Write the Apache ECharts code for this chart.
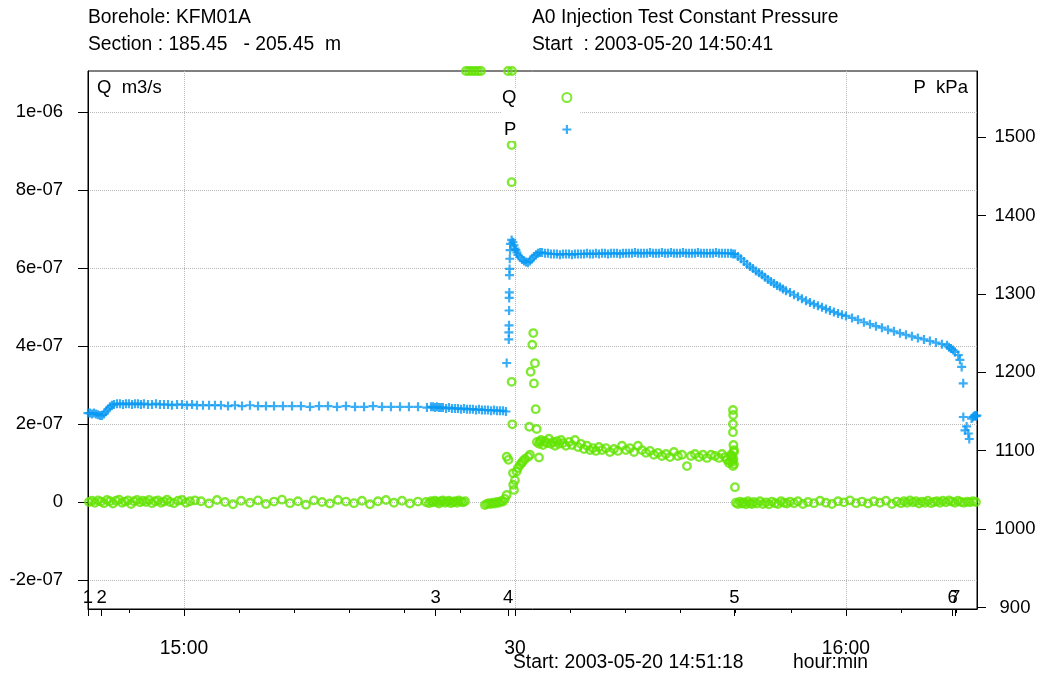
<!DOCTYPE html>
<html>
<head>
<meta charset="utf-8">
<script src="https://cdn.jsdelivr.net/npm/echarts@6/dist/echarts.min.js"></script>
<style>
html, body { margin: 0; padding: 0; background: #fff; }
#chart { width: 1047px; height: 678px; }
</style>
</head>
<body>
<div id="chart"></div>
<script>
// time is in minutes after 15:00, Q in 1e-7 m3/s, P in kPa
var majorTicks = [0, 30, 60];
var majorLabels = ['15:00', '30', '16:00'];
var minorTicks = [-5, 5, 10, 15, 20, 25, 35, 40, 45, 50, 55, 65, 70];
var eventTimes = [-8.70, -7.46, 22.81, 29.39, 49.88, 69.67, 69.91];
var eventLabels = ['1', '2', '3', '4', '5', '6', '7'];
var qTicks = [-2, 0, 2, 4, 6, 8, 10];
var qTickLabels = ['-2e-07', '0', '2e-07', '4e-07', '6e-07', '8e-07', '1e-06'];
var pTicks = [900, 1000, 1100, 1200, 1300, 1400, 1500];

var pBefore = [
  [-8.70,1148],[-8.52,1148],[-8.34,1147],[-8.16,1148],[-7.98,1147],[-7.79,1146],[-7.61,1145],[-7.43,1145],
  [-7.25,1147],[-7.07,1150],[-6.89,1153],[-6.71,1156],[-6.53,1158],[-6.34,1159],
  [-6.07,1160],[-5.80,1160],[-5.53,1159],[-5.26,1160],[-4.99,1160],[-4.71,1159],[-4.44,1160],[-4.17,1160],
  [-3.90,1159],[-3.63,1160],[-3.26,1159],[-2.90,1159],[-2.54,1160],[-2.18,1159],[-1.81,1159],[-1.45,1159],
  [-1.09,1158],[-0.63,1159],[-0.18,1159],[0.27,1158],[0.73,1159],[1.18,1158],[1.72,1158],[2.27,1158],
  [2.81,1158],[3.35,1158],[3.99,1157],[4.62,1158],[5.26,1157],[5.98,1158],[6.71,1157],[7.43,1157],
  [8.16,1157],[8.97,1157],[9.79,1157],[10.60,1157],[11.42,1156],[12.24,1157],[13.05,1157],[13.87,1156],
  [14.68,1157],[15.50,1156],[16.32,1156],[17.13,1157],[17.95,1156],[18.76,1156],[19.58,1156],[20.39,1156],
  [21.21,1156],[22.02,1155],
  [22.39,1156],[22.57,1156],[22.75,1155],[22.93,1156],[23.11,1155],[23.29,1155],[23.47,1155],[23.75,1154],
  [24.02,1155],[24.29,1154],[24.56,1154],[24.83,1154],[25.11,1153],[25.38,1154],[25.65,1153],[25.92,1153],
  [26.19,1153],[26.47,1152],[26.74,1153],[27.01,1152],[27.28,1152],[27.55,1152],[27.83,1151],[28.10,1152],
  [28.37,1151],[28.64,1151],[28.91,1151],[29.18,1150]
];
var pRise = [
  [29.25,1212],[29.44,1242],[29.45,1251],[29.46,1260],[29.47,1279],[29.48,1295],[29.49,1302],[29.50,1324],
  [29.51,1332],[29.53,1345],[29.56,1356],[29.60,1364],[29.70,1369],
  [29.82,1366],[29.91,1362],[30.00,1358],[30.09,1356],[30.18,1353],[30.27,1350],[30.45,1347],[30.64,1344],
  [30.82,1342],[31.00,1341],[31.18,1340],[31.36,1342],[31.54,1345],[31.72,1348],[31.90,1350],[32.08,1352],
  [32.27,1353],[32.45,1353],[32.72,1352],[32.99,1352],[33.26,1351]
];
var pPlateau = [
  [33.54,1351],[33.81,1351],[34.08,1350],[34.35,1351],[34.62,1351],[34.90,1351],[35.17,1350],[35.44,1351],
  [35.71,1351],[35.98,1351],[36.26,1351],[36.53,1352],[36.80,1351],[37.07,1351],[37.34,1352],[37.61,1351],
  [37.89,1352],[38.16,1352],[38.43,1351],[38.70,1352],[38.97,1352],[39.25,1352],[39.52,1351],[39.79,1352],
  [40.06,1352],[40.33,1352],[40.61,1352],[40.88,1353],[41.15,1352],[41.42,1352],[41.69,1352],[41.97,1352],
  [42.24,1353],[42.51,1352],[42.78,1352],[43.05,1352],[43.32,1353],[43.60,1352],[43.87,1352],[44.14,1353],
  [44.41,1352],[44.68,1352],[44.96,1352],[45.23,1353],[45.50,1352],[45.77,1352],[46.04,1352],[46.32,1352],
  [46.59,1353],[46.86,1352],[47.13,1352],[47.40,1352],[47.68,1352],[47.95,1352],[48.22,1353],[48.49,1352],
  [48.76,1352],[49.04,1352],[49.31,1352],[49.58,1352],[49.76,1351]
];
var pRecovery = [
  [49.94,1351],[50.21,1348],[50.48,1345],[50.76,1341.5],[51.03,1338],[51.30,1335],[51.57,1332.5],[51.84,1329.5],
  [52.12,1327],[52.39,1324.5],[52.66,1321.5],[52.93,1318.5],[53.20,1316],[53.48,1313.5],[53.75,1311],[54.02,1309],
  [54.29,1306.5],[54.56,1304],[54.93,1302],[55.29,1299],[55.65,1296.5],[56.01,1294],[56.38,1291.5],[56.74,1289],
  [57.10,1287],[57.46,1285],[57.83,1283],[58.19,1281],[58.55,1279],[58.91,1277],[59.28,1275],[59.64,1273.5],
  [60.00,1272],[60.55,1269.5],[61.09,1267],[61.63,1264],[62.18,1261.5],[62.72,1259],[63.26,1257],[63.81,1254.5],
  [64.35,1252.5],[64.90,1250],[65.44,1248],[65.98,1246],[66.52,1244],[67.07,1242],[67.61,1240],[68.16,1238],
  [68.70,1236],[69.16,1234.5],[69.34,1232],[69.52,1230.5],[69.70,1228.5],[69.88,1226],[70.18,1222],[70.33,1216],
  [70.49,1207],[70.63,1186],[70.64,1143],[70.79,1126],[70.94,1131],[71.09,1122],[71.18,1115],[71.39,1141],
  [71.50,1143],[71.62,1144],[71.72,1145],[71.80,1144],[71.87,1145]
];

var qBefore = [
  [-8.61,0.00],[-8.34,0.03],[-8.07,-0.02],[-7.79,0.04],[-7.52,0.01],[-7.25,-0.03],[-6.98,0.05],[-6.71,0.02],
  [-6.44,-0.04],[-6.16,0.03],[-5.89,0.06],[-5.62,-0.02],[-5.35,0.01],[-5.08,0.04],[-4.80,-0.05],[-4.53,0.02],
  [-4.26,0.05],[-3.99,-0.01],[-3.72,0.03],[-3.44,0.00],[-3.17,0.05],[-2.90,-0.03],[-2.63,0.02],[-2.36,0.04],
  [-2.09,-0.02],[-1.81,0.01],[-1.54,0.06],[-1.27,0.00],[-0.91,-0.03],[-0.54,0.03],[-0.18,0.05],[0.18,-0.02],
  [0.54,0.02],[1.00,0.04],
  [1.54,0.02],[2.27,-0.04],[2.99,0.05],[3.72,0.00],[4.44,-0.06],[5.17,0.03],[5.98,-0.02],[6.71,0.04],
  [7.43,-0.05],[8.16,0.01],[8.88,0.06],[9.61,-0.03],[10.33,0.02],[11.06,-0.07],[11.78,0.04],[12.51,0.00],
  [13.23,-0.04],[13.96,0.05],[14.68,0.01],[15.41,-0.03],[16.13,0.03],[16.86,-0.06],[17.58,0.02],[18.31,0.05],
  [19.03,-0.02],[19.76,0.03],[20.48,-0.04],[21.21,0.01],[21.93,0.00],
  [22.21,-0.03],[22.39,0.02],[22.57,-0.01],[22.75,0.03],[22.93,0.00],[23.11,-0.04],[23.29,0.02],[23.47,0.04],
  [23.66,-0.02],[23.84,0.01],[24.02,0.03],[24.20,-0.03],[24.38,0.00],[24.56,0.02],[24.74,-0.02],[24.92,0.04],
  [25.11,0.01],[25.29,-0.01],[25.47,0.02]
];
// readings above the top of the plot, drawn on its upper edge
var qOffScale = [
  [25.56,11.05],[25.83,11.05],[26.10,11.05],[26.38,11.05],[26.65,11.05],[26.92,11.05],[29.37,11.05],[29.73,11.05]
];
var qInjection = [
  [27.28,-0.08],[27.46,-0.05],[27.64,-0.03],[27.83,-0.05],[28.01,-0.02],[28.19,-0.04],[28.37,0.00],[28.55,-0.02],
  [28.73,0.02],[28.91,0.01],[29.09,0.08],[29.25,0.18],
  [29.25,1.16],[29.41,1.08],[29.70,3.08],[29.76,1.99],[29.82,0.74],[29.84,0.44],[29.91,0.31],[30.00,0.56],
  [30.15,0.78],[30.27,0.87],[30.45,0.95],[30.61,1.00],[30.73,1.05],[30.91,1.10],[31.21,1.16],[31.36,1.21],
  [32.18,1.14],[31.66,4.33],[31.57,4.03],[31.81,3.56],[31.42,3.34],[31.72,3.04],[31.88,2.38],[31.30,1.93],
  [31.97,1.87],[32.27,1.55],[29.70,9.15],[29.70,8.20],
  [31.99,1.54],[32.18,1.49],[32.36,1.59],[32.54,1.46],[32.72,1.56],[32.90,1.51],[33.08,1.62],[33.26,1.49],
  [33.45,1.54],[33.63,1.44],[33.81,1.56],[33.99,1.49],[34.17,1.59],[34.35,1.51],[34.62,1.44],[34.90,1.54],
  [35.17,1.46],[35.44,1.59],[35.71,1.41],[35.98,1.49],[36.26,1.36],[36.53,1.44],[36.80,1.33],[37.07,1.38],
  [37.34,1.31],[37.61,1.41],[37.89,1.33],[38.25,1.38],[38.61,1.28],[38.97,1.36],[39.34,1.31],[39.70,1.44],
  [40.06,1.33],[40.42,1.38],[40.79,1.28],[41.15,1.44],[41.51,1.33],[41.87,1.26],[42.24,1.31],[42.60,1.21],
  [42.96,1.26],[43.32,1.18],[43.69,1.23],[44.05,1.15],[44.41,1.28],[44.77,1.18],[45.14,1.21],[45.59,0.92],
  [45.95,1.18],[46.32,1.23],[46.68,1.15],[47.04,1.21],[47.40,1.13],[47.77,1.21],[48.13,1.18],[48.49,1.13],
  [48.76,1.23],[49.04,1.15],[49.22,1.08],[49.40,1.00],[49.49,1.05],[49.58,1.21],[49.62,1.18],[49.67,1.13],
  [49.70,1.03],[49.76,0.92],[49.80,1.10],[49.85,1.28],[49.85,0.97],
  [49.76,2.36],[49.78,2.23],[49.76,2.00],[49.76,1.79],[49.80,1.46],[49.85,1.33],[49.94,0.38]
];
var qAfter = [
  [50.03,-0.02],[50.21,-0.05],[50.39,0.01],[50.57,-0.04],[50.76,-0.01],[50.94,-0.06],[51.12,0.02],[51.30,-0.03],
  [51.48,-0.05],[51.66,0.00],[51.93,-0.04],[52.21,0.02],[52.48,-0.05],[52.75,-0.01],[53.02,-0.06],[53.29,0.01],
  [53.57,-0.03],[53.84,-0.05],[54.11,0.02],[54.38,-0.02],[54.65,-0.04],[54.93,0.01],[55.29,-0.03],[55.65,0.02],
  [56.10,-0.05],[56.56,0.00],[57.10,-0.03],[57.65,0.03],[58.19,-0.02],[58.73,-0.05],[59.28,0.02],[59.82,-0.01],
  [60.36,0.04],[60.91,-0.03],[61.45,0.01],[62.00,-0.04],[62.54,0.02],[63.08,-0.02],[63.63,0.03],[64.17,-0.05],
  [64.62,0.01],[64.99,-0.03],[65.26,0.02],[65.53,-0.02],[65.80,0.04],[66.07,-0.01],[66.35,0.02],[66.62,-0.04],
  [66.89,0.01],[67.16,-0.02],[67.43,0.03],[67.71,-0.03],[67.98,0.00],[68.25,0.02],[68.52,-0.02],[68.79,0.03],
  [69.07,-0.01],[69.34,0.04],[69.61,0.01],[69.88,-0.02],[70.15,0.03],[70.42,0.00],[70.70,-0.02],[70.97,0.01],
  [71.24,-0.01],[71.51,0.02],[71.78,0.00]
];

var FONT = '"Liberation Sans", Arial, sans-serif';
var FS = 18.5;
var FS_TEXT = 19.3;
var GREEN = '#62e400';
var BLUE = '#0898f2';
var PLUS = 'path://M3.8,0H6.2V3.8H10V6.2H6.2V10H3.8V6.2H0V3.8H3.8Z';
var X_MIN = -8.70, X_MAX = 71.88;
var Q_MIN = -2.744, Q_MAX = 11.05;
var P_MIN = 898, P_MAX = 1584.6;

var chart = echarts.init(document.getElementById('chart'));

function title(text, left, top) {
  return {
    text: text, left: left, top: top, padding: 0,
    textStyle: { fontFamily: FONT, fontSize: FS_TEXT, fontWeight: 'normal', color: '#000' }
  };
}
var blackLine = { color: '#000', width: 1 };
var gridLine = { type: 'dotted', color: '#b8b8b8', width: 1 };

// numbered test events sit on the time axis; 6 and 7 nearly coincide,
// so 7 gets its own axis to stop ECharts hiding one of them
function eventAxis(values) {
  return {
    type: 'value', min: X_MIN, max: X_MAX, position: 'bottom',
    axisLine: { show: false, onZero: false },
    axisTick: { show: true, length: 7, customValues: values, lineStyle: blackLine },
    axisLabel: {
      customValues: values, inside: true, margin: 2, hideOverlap: false,
      formatter: function (v) { return eventLabels[eventTimes.indexOf(v)]; },
      fontFamily: FONT, fontSize: FS, color: '#000'
    },
    splitLine: { show: false }
  };
}

var option = {
  animation: false,
  backgroundColor: '#fff',
  title: [
    title('Borehole: KFM01A', 88, 8),
    title('Section : 185.45   - 205.45  m', 88, 35),
    title('A0 Injection Test Constant Pressure', 532, 8),
    title('Start  : 2003-05-20 14:50:41', 532, 35),
    title('Start: 2003-05-20 14:51:18', 513, 653),
    title('hour:min', 793, 653)
  ],
  legend: {
    left: 502, top: 88, orient: 'vertical', align: 'right',
    itemWidth: 9, itemHeight: 9, itemGap: 13,
    padding: [0, 8, 2, 0], backgroundColor: '#fff',
    selectedMode: false,
    textStyle: { fontFamily: FONT, fontSize: FS, color: '#000', padding: [0, 41, 0, 0] },
    data: [{ name: 'Q', icon: 'circle' }, { name: 'P', icon: PLUS }]
  },
  grid: {
    left: 88, right: 70, top: 71, bottom: 69,
    containLabel: false, outerBoundsMode: 'none',
    show: true, borderColor: '#000', borderWidth: 1
  },
  xAxis: [
    {
      type: 'value', min: X_MIN, max: X_MAX, position: 'bottom',
      axisLine: { show: true, onZero: false, lineStyle: blackLine },
      axisTick: { show: true, length: 7, customValues: majorTicks, lineStyle: blackLine },
      axisLabel: {
        customValues: majorTicks, margin: 30, hideOverlap: false,
        formatter: function (v) { return majorLabels[majorTicks.indexOf(v)]; },
        fontFamily: FONT, fontSize: FS_TEXT, color: '#000'
      },
      splitLine: { show: true, lineStyle: gridLine }
    },
    {
      type: 'value', min: X_MIN, max: X_MAX, position: 'bottom',
      axisLine: { show: false, onZero: false },
      axisTick: { show: true, length: 4, customValues: minorTicks, lineStyle: blackLine },
      axisLabel: { show: false },
      splitLine: { show: false }
    },
    eventAxis(eventTimes.slice(0, 6)),
    eventAxis(eventTimes.slice(6))
  ],
  yAxis: [
    {
      type: 'value', min: Q_MIN, max: Q_MAX, position: 'left',
      name: 'Q  m3/s', nameLocation: 'end', nameGap: -17, nameMoveOverlap: false,
      nameTextStyle: { fontFamily: FONT, fontSize: FS, color: '#000', align: 'left', verticalAlign: 'middle', padding: [0, 0, 0, 9] },
      axisLine: { show: true, onZero: false, lineStyle: blackLine },
      axisTick: { show: true, length: 10, customValues: qTicks, lineStyle: blackLine },
      axisLabel: {
        customValues: qTicks, margin: 25,
        formatter: function (v) { return qTickLabels[qTicks.indexOf(v)]; },
        fontFamily: FONT, fontSize: FS, color: '#000'
      },
      splitLine: { show: true, lineStyle: gridLine }
    },
    {
      type: 'value', min: P_MIN, max: P_MAX, position: 'right',
      name: 'P  kPa', nameLocation: 'end', nameGap: -17, nameMoveOverlap: false,
      nameTextStyle: { fontFamily: FONT, fontSize: FS, color: '#000', align: 'right', verticalAlign: 'middle', padding: [0, 9, 0, 0] },
      axisLine: { show: true, onZero: false, lineStyle: blackLine },
      axisTick: { show: true, length: 9, customValues: pTicks, lineStyle: blackLine },
      axisLabel: {
        customValues: pTicks, margin: 38, align: 'center',
        formatter: function (v) { return String(v); },
        fontFamily: FONT, fontSize: FS, color: '#000'
      },
      splitLine: { show: false }
    }
  ],
  series: [
    {
      name: 'P', type: 'scatter', xAxisIndex: 0, yAxisIndex: 1,
      symbol: PLUS, symbolSize: 9, clip: false,
      itemStyle: { color: BLUE },
      data: pBefore.concat(pRise, pPlateau, pRecovery)
    },
    {
      name: 'Q', type: 'scatter', xAxisIndex: 0, yAxisIndex: 0,
      symbol: 'circle', symbolSize: 7.5, clip: false,
      itemStyle: { color: 'rgba(0,0,0,0)', borderColor: GREEN, borderWidth: 2.4 },
      data: qBefore.concat(qOffScale, qInjection, qAfter)
    }
  ]
};

chart.setOption(option);
</script>
</body>
</html>
